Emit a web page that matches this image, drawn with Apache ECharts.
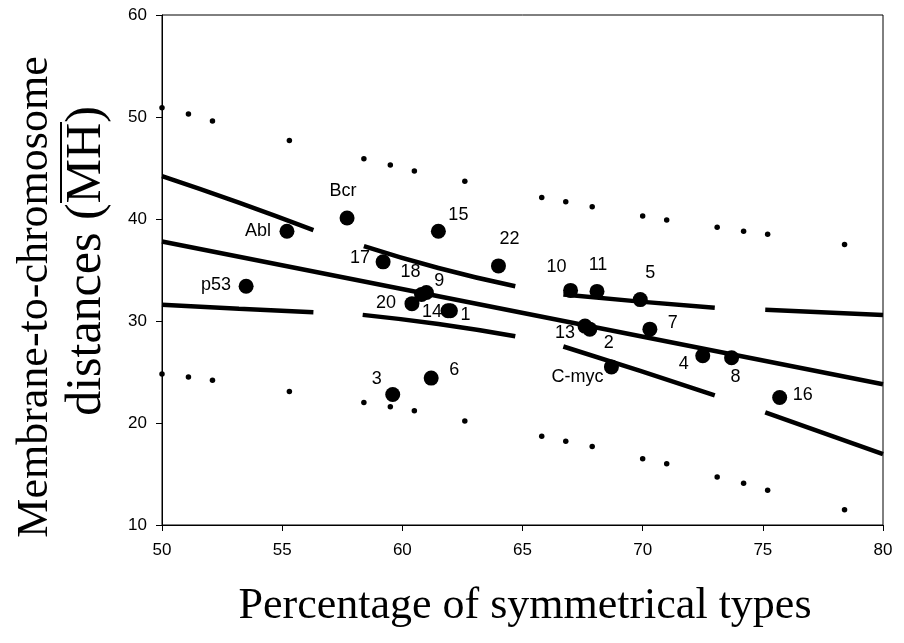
<!DOCTYPE html>
<html>
<head>
<meta charset="utf-8">
<script src="https://cdn.jsdelivr.net/npm/echarts@6/dist/echarts.min.js"></script>
<style>
  html, body { margin: 0; padding: 0; background: #fff; }
  #sd { width: 904px; height: 643px; }
</style>
</head>
<body>
<div id="sd"></div>
<script>
// labelled points
var pointNames = ['Abl', 'Bcr', '15', '22', '17', 'p53', '18', '9', '20', '14', '1', '3', '6',
  '10', '11', '5', '13', '2', '7', 'C-myc', '4', '8', '16'];
var pointX = [55.2, 57.7, 61.5, 64.0, 59.2, 53.5, 60.8, 61.0, 60.4, 61.9, 62.0, 59.6, 61.2,
  67.0, 68.1, 69.9, 67.6, 67.8, 70.3, 68.7, 72.5, 73.7, 75.7];
var pointY = [38.8, 40.1, 38.8, 35.4, 35.8, 33.4, 32.6, 32.8, 31.7, 31.0, 31.0, 22.8, 24.4,
  33.0, 32.9, 32.1, 29.5, 29.2, 29.2, 25.5, 26.6, 26.4, 22.5];

// prediction band dots
var dotsX = [50.0, 51.1, 52.1, 55.3, 58.4, 59.5, 60.5, 62.6, 65.8, 66.8, 67.9, 70.0, 71.0, 73.1, 74.2, 75.2, 78.4];
var upperDotsY = [50.9, 50.3, 49.6, 47.7, 45.9, 45.3, 44.7, 43.7, 42.1, 41.7, 41.2, 40.3, 39.9, 39.2, 38.8, 38.5, 37.5];
var lowerDotsY = [24.8, 24.5, 24.2, 23.1, 22.0, 21.6, 21.2, 20.2, 18.7, 18.2, 17.7, 16.5, 16.0, 14.7, 14.1, 13.4, 11.5];

// regression line
var regX = [50, 80];
var regY = [37.8, 23.8];

// confidence band, drawn as broken segments
var upperBand = [
  [[50, 44.2], [53.2, 41.6], [56.3, 38.9]],
  [[58.4, 37.35], [61.5, 35.2], [64.7, 33.4]],
  [[66.7, 32.6], [69.9, 31.9], [73.0, 31.3]],
  [[75.1, 31.1], [80, 30.6]]
];
var lowerBand = [
  [[50, 31.6], [53.2, 31.2], [56.3, 30.85]],
  [[58.35, 30.6], [61.5, 29.7], [64.7, 28.5]],
  [[66.7, 27.5], [69.9, 25.1], [73.0, 22.7]],
  [[75.1, 21.05], [80, 16.95]]
];

// where each point label sits relative to its dot (px)
var labelOffset = {
  'Abl': [-29, 0], 'Bcr': [-4, -27], '15': [20, -16], '22': [11, -27], '17': [-23, -4],
  'p53': [-30, -1], '18': [-11, -22], '9': [13, -11], '20': [-26, -1], '14': [-16, 1],
  '1': [15, 4], '3': [-16, -15], '6': [23, -8], '10': [-14, -23], '11': [1, -26],
  '5': [10, -27], '13': [-20, 7], '2': [19, 14], '7': [23, -6], 'C-myc': [-34, 10],
  '4': [-19, 8], '8': [4, 19], '16': [23, -2]
};

var chart = echarts.init(document.getElementById('sd'));

var points = [];
for (var i = 0; i < pointNames.length; i++) {
  points.push({
    value: [pointX[i], pointY[i]],
    name: pointNames[i],
    label: { offset: labelOffset[pointNames[i]] }
  });
}
var upperDots = [], lowerDots = [], reg = [];
for (var i = 0; i < dotsX.length; i++) {
  upperDots.push([dotsX[i], upperDotsY[i]]);
  lowerDots.push([dotsX[i], lowerDotsY[i]]);
}
for (var i = 0; i < regX.length; i++) reg.push([regX[i], regY[i]]);

var thick = { color: '#000', width: 4.5 };
var series = [];
series.push({ type: 'line', data: reg, symbol: 'none', lineStyle: thick, z: 3 });
upperBand.concat(lowerBand).forEach(function (seg) {
  series.push({ type: 'line', data: seg, symbol: 'none', smooth: true, lineStyle: thick, z: 3 });
});
series.push({ type: 'scatter', data: upperDots, symbolSize: 5.5, itemStyle: { color: '#000', opacity: 1 }, z: 4 });
series.push({ type: 'scatter', data: lowerDots, symbolSize: 5.5, itemStyle: { color: '#000', opacity: 1 }, z: 4 });
series.push({
  type: 'scatter',
  data: points,
  symbolSize: 15,
  itemStyle: { color: '#000', opacity: 1 },
  label: {
    show: true,
    position: 'inside',
    formatter: '{b}',
    color: '#000',
    fontFamily: 'Liberation Sans',
    fontSize: 18
  },
  z: 5
});

var option = {
  backgroundColor: '#fff',
  animation: false,
  grid: {
    left: 162, right: 21, top: 15, bottom: 118,
    show: true, borderColor: '#000', borderWidth: 1
  },
  xAxis: {
    type: 'value', min: 50, max: 80, interval: 5,
    axisLine: { lineStyle: { color: '#000', width: 1 } },
    axisTick: { length: 6, lineStyle: { color: '#000' } },
    axisLabel: { color: '#000', fontFamily: 'Liberation Sans', fontSize: 17, margin: 17 },
    splitLine: { show: false }
  },
  yAxis: {
    type: 'value', min: 10, max: 60, interval: 10,
    axisLine: { show: true, lineStyle: { color: '#000', width: 1 } },
    axisTick: { show: true, length: 6, lineStyle: { color: '#000' } },
    axisLabel: { color: '#000', fontFamily: 'Liberation Sans', fontSize: 17, margin: 15 },
    splitLine: { show: false }
  },
  graphic: [
    {
      type: 'text', x: 35, y: 297, rotation: Math.PI / 2,
      style: { text: 'Membrane-to-chromosome', font: '44px "Liberation Serif"', fill: '#000',
        textAlign: 'center', textVerticalAlign: 'middle' }
    },
    {
      type: 'text', x: 87, y: 261, rotation: Math.PI / 2,
      style: { text: 'distances (MH)', font: '50px "Liberation Serif"', fill: '#000',
        textAlign: 'center', textVerticalAlign: 'middle' }
    },
    {
      type: 'line', shape: { x1: 61, y1: 203, x2: 61, y2: 122 },
      style: { stroke: '#000', lineWidth: 2 }
    },
    {
      type: 'text', x: 525, y: 606,
      style: { text: 'Percentage of symmetrical types', font: '44px "Liberation Serif"', fill: '#000',
        textAlign: 'center', textVerticalAlign: 'middle' }
    }
  ],
  series: series
};

chart.setOption(option);
</script>
</body>
</html>
